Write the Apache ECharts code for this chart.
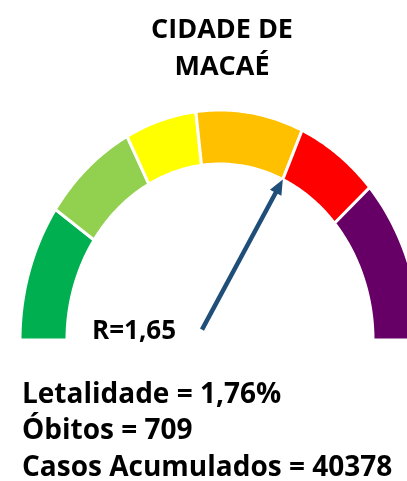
<!DOCTYPE html>
<html>
<head>
<meta charset="utf-8">
<script src="https://cdn.jsdelivr.net/npm/echarts@6/dist/echarts.min.js"></script>
<style>
  html, body { margin: 0; padding: 0; background: #fff; }
  #chart { width: 407px; height: 481px; }
</style>
</head>
<body>
<div id="chart"></div>
<script>
// faixas do indicador R (limites) e cores
const bandLimits = [0, 0.5, 0.9, 1.2, 1.65, 2.0, 2.6]
const bandColors = ['#00B050', '#92D050', '#FFFF00', '#FFC000', '#FF0000', '#660066']
const rValue = 1.65
const cityName = ['CIDADE DE', 'MACAÉ']
const infoLabels = ['Letalidade', 'Óbitos', 'Casos Acumulados']
const infoValues = ['1,76%', '709', '40378']

const gaugeMax = bandLimits[bandLimits.length - 1]
const innerR = 0.765
const font = '"Open Sans", sans-serif'

const bands = []
for (let i = 0; i < bandLimits.length - 1; i++) {
  bands.push([bandLimits[i], bandLimits[i + 1], i])
}

// valor -> angulo (180 graus = 0, 0 graus = max)
function angleOf (v) {
  return Math.PI * (1 - v / gaugeMax)
}

function renderBand (params, api) {
  const a0 = angleOf(api.value(0))
  const a1 = angleOf(api.value(1))
  const steps = 40
  const pts = []
  for (let s = 0; s <= steps; s++) {
    const a = a0 + (a1 - a0) * s / steps
    pts.push(api.coord([Math.cos(a), Math.sin(a)]))
  }
  for (let s = steps; s >= 0; s--) {
    const a = a0 + (a1 - a0) * s / steps
    pts.push(api.coord([innerR * Math.cos(a), innerR * Math.sin(a)]))
  }
  return {
    type: 'polygon',
    shape: { points: pts },
    style: {
      fill: bandColors[api.value(2)],
      stroke: '#fff',
      lineWidth: 3
    }
  }
}

function renderArrow (params, api) {
  const a = angleOf(api.value(0))
  const tip = api.coord([innerR * Math.cos(a), innerR * Math.sin(a)])
  const base = api.coord([-0.09, 0.045])
  const dx = tip[0] - base[0]
  const dy = tip[1] - base[1]
  const len = Math.sqrt(dx * dx + dy * dy)
  const ux = dx / len
  const uy = dy / len
  const headLen = 15
  const headW = 6.5
  const neck = [tip[0] - ux * headLen, tip[1] - uy * headLen]
  return {
    type: 'group',
    children: [
      {
        type: 'line',
        shape: { x1: base[0], y1: base[1], x2: neck[0] + ux * 2, y2: neck[1] + uy * 2 },
        style: { stroke: '#1F4E79', lineWidth: 4.5 }
      },
      {
        type: 'polygon',
        shape: {
          points: [
            tip,
            [neck[0] - uy * headW, neck[1] + ux * headW],
            [neck[0] + uy * headW, neck[1] - ux * headW]
          ]
        },
        style: { fill: '#1F4E79' }
      }
    ]
  }
}

const mychart = echarts.init(document.getElementById('chart'))

function txt (text, x, y, size, align) {
  return {
    type: 'text',
    x: x,
    y: y,
    style: {
      text: text,
      fontFamily: font,
      fontWeight: 'bold',
      fontSize: size,
      fill: '#000',
      align: align || 'left',
      verticalAlign: 'top'
    }
  }
}

const option = {
  animation: false,
  // o semicirculo passa da borda direita: eixo x vai ate 0.935
  grid: { left: 20, right: 0, top: 110, bottom: 141 },
  xAxis: { type: 'value', min: -1, max: 0.935, show: false },
  yAxis: { type: 'value', min: 0, max: 1, show: false },
  series: [
    {
      type: 'custom',
      renderItem: renderBand,
      data: bands,
      silent: true
    },
    {
      type: 'custom',
      renderItem: renderArrow,
      data: [[rValue]],
      silent: true,
      z: 5
    }
  ],
  graphic: [
    txt(cityName[0], 222, 17, 27, 'center'),
    txt(cityName[1], 222, 54, 27, 'center'),
    txt('R=' + String(rValue).replace('.', ','), 92, 319, 26),
    txt(infoLabels[0] + ' = ' + infoValues[0], 22, 381, 28),
    txt(infoLabels[1] + ' = ' + infoValues[1], 22, 417, 28),
    txt(infoLabels[2] + ' = ' + infoValues[2], 22, 454, 28)
  ]
}
mychart.setOption(option)
</script>
</body>
</html>
